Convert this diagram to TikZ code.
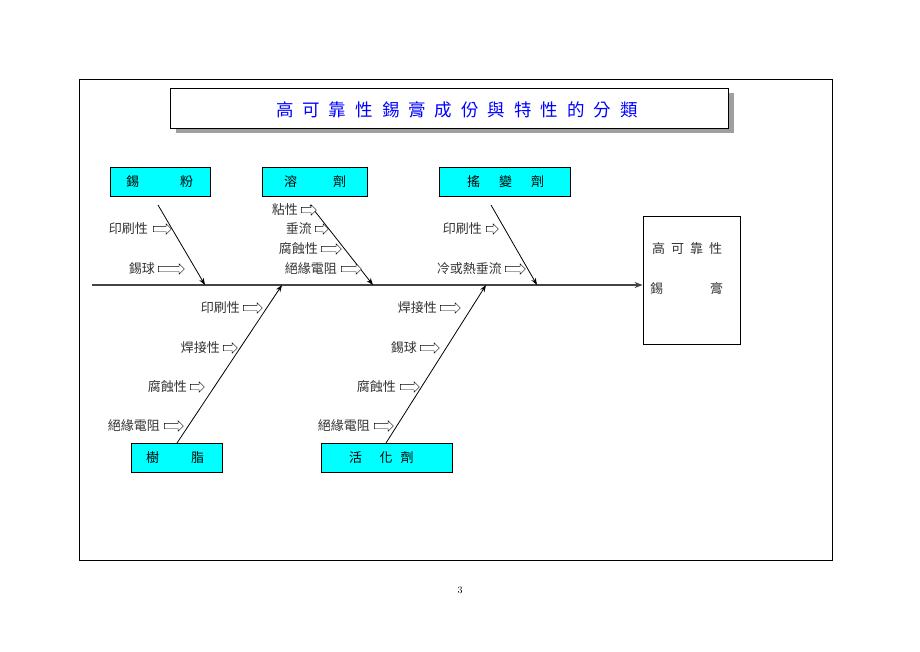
\documentclass[tikz,border=0pt]{standalone}
\usepackage{fontspec}
\newfontfamily\cjk{Noto Sans CJK TC}
\usetikzlibrary{shapes.arrows,arrows.meta,shadows}
\definecolor{lblgray}{HTML}{333333}
\definecolor{spinegray}{HTML}{444444}
\definecolor{aqua}{RGB}{0,255,255}
\begin{document}
\begin{tikzpicture}[x=1pt,y=-1pt,
  every node/.style={font=\cjk\fontsize{13}{13}\selectfont, inner sep=0pt},
  catbox/.style={draw, fill=aqua, minimum height=29pt},
  lbl/.style={anchor=east, text=lblgray},
  harrow/.style={single arrow, draw=black, fill=white, inner xsep=0pt, inner ysep=2.5pt,
     minimum height=#1, single arrow head extend=2.5pt, single arrow head indent=0pt},
  branch/.style={draw=black, line width=0.8pt, -{Stealth[length=7pt,width=5pt]}},
  ch/.style={text=black}
]
\useasboundingbox (0,0) rectangle (920,651);
% frame
\node[draw, line width=0.8pt, minimum width=753pt, minimum height=481pt] (frame) at (455.5,319.5) {};
% title
\fill[gray!75] (176,93) rectangle (734,133);
\node[draw, fill=white, line width=0.8pt, minimum width=558pt, minimum height=40pt] (titlebox) at (449,108) {};
\node[text=blue, font=\cjk\fontsize{17.5}{17.5}\selectfont] (title) at (457,110)
 {高\hspace{9pt}可\hspace{9pt}靠\hspace{9pt}性\hspace{9pt}錫\hspace{9pt}膏\hspace{9pt}成\hspace{9pt}份\hspace{9pt}與\hspace{9pt}特\hspace{9pt}性\hspace{9pt}的\hspace{9pt}分\hspace{9pt}類};
% category boxes
\node[catbox, minimum width=100pt] (fen) at (160,181.5) {};
\node[ch] (fen1) at (132.5,181.5) {錫};
\node[ch] (fen2) at (186.5,181.5) {粉};
\node[catbox, minimum width=105pt] (rong) at (314.5,181.5) {};
\node[ch] (rong1) at (290.5,181.5) {溶};
\node[ch] (rong2) at (339.5,181.5) {劑};
\node[catbox, minimum width=131pt] (yao) at (504.5,181.5) {};
\node[ch] (yao1) at (473.5,181.5) {搖};
\node[ch] (yao2) at (505.5,181.5) {變};
\node[ch] (yao3) at (537.5,181.5) {劑};
\node[catbox, minimum width=91pt] (shu) at (176.5,457.5) {};
\node[ch] (shu1) at (152.5,457.5) {樹};
\node[ch] (shu2) at (197.5,457.5) {脂};
\node[catbox, minimum width=131pt] (huo) at (386.5,457.5) {};
\node[ch] (huo1) at (355.5,457.5) {活};
\node[ch] (huo2) at (386,457.5) {化};
\node[ch] (huo3) at (407,457.5) {劑};
% effect box
\node[draw, line width=0.8pt, minimum width=97pt, minimum height=128pt] (eff) at (691.5,280) {};
\node[ch, text=lblgray] (eff1) at (687,249) {高\hspace{6pt}可\hspace{6pt}靠\hspace{6pt}性};
\node[ch, text=lblgray] (eff2) at (656.5,289) {錫};
\node[ch, text=lblgray] (eff3) at (716.5,289) {膏};
% spine
\coordinate (sL) at (92,285);
\draw[draw=spinegray, line width=1.6pt, -{Stealth[length=8pt,width=6pt]}] (sL) -- (sL -| eff.west);
% branch ends on spine
\coordinate (e1) at (205,285);
\coordinate (e2) at (373,285);
\coordinate (e3) at (537,285);
\coordinate (e4) at (282,285);
\coordinate (e5) at (486,285);
\coordinate (s1) at (158,205);
\coordinate (s2) at (310,205);
\coordinate (s3) at (491,205);
\coordinate (s4) at (177,443);
\coordinate (s5) at (386,443);
\draw[branch] (s1) -- (e1);
\draw[branch] (s2) -- (e2);
\draw[branch] (s3) -- (e3);
\draw[branch] (s4) -- (e4);
\draw[branch] (s5) -- (e5);
% labels, branch 1
\node[lbl] (a1) at (148,229) {印刷性};
\node[harrow=18pt] (a1a) at (161,229) {};
\node[lbl] (a2) at (155,269) {錫球};
\node[harrow=26pt] (a2a) at (170,269) {};
% branch 2
\node[lbl] (b1) at (298,210) {粘性};
\node[harrow=15pt] (b1a) at (307.5,210) {};
\node[lbl] (b2) at (312,229) {垂流};
\node[harrow=13pt] (b2a) at (320.5,229) {};
\node[lbl] (b3) at (318,249) {腐蝕性};
\node[harrow=20pt] (b3a) at (330,249) {};
\node[lbl] (b4) at (337,269) {絕緣電阻};
\node[harrow=20pt] (b4a) at (350,269) {};
% branch 3
\node[lbl] (c1) at (482,229) {印刷性};
\node[harrow=12pt] (c1a) at (491,229) {};
\node[lbl] (c2) at (502,269) {冷或熱垂流};
\node[harrow=20pt] (c2a) at (514,269) {};
% branch 4
\node[lbl] (d1) at (240,308) {印刷性};
\node[harrow=19pt] (d1a) at (251.5,308) {};
\node[lbl] (d2) at (220,348) {焊接性};
\node[harrow=14pt] (d2a) at (229,348) {};
\node[lbl] (d3) at (187,387) {腐蝕性};
\node[harrow=14pt] (d3a) at (196,387) {};
\node[lbl] (d4) at (160,426) {絕緣電阻};
\node[harrow=19pt] (d4a) at (172.5,426) {};
% branch 5
\node[lbl] (f1) at (437,308) {焊接性};
\node[harrow=20pt] (f1a) at (449,308) {};
\node[lbl] (f2) at (417,348) {錫球};
\node[harrow=19pt] (f2a) at (428.5,348) {};
\node[lbl] (f3) at (396,387) {腐蝕性};
\node[harrow=19pt] (f3a) at (408.5,387) {};
\node[lbl] (f4) at (370,426) {絕緣電阻};
\node[harrow=19pt] (f4a) at (382.5,426) {};
% page number
\node[font=\rmfamily\fontsize{10}{10}\selectfont] (pg) at (460,590) {3};
\end{tikzpicture}
\end{document}
